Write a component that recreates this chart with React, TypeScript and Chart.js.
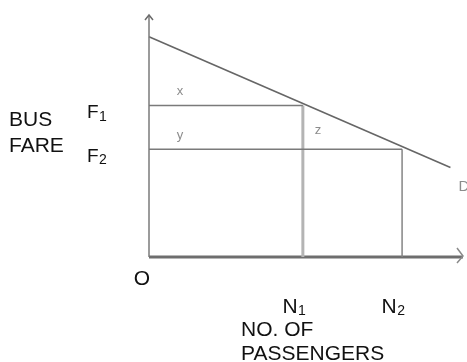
import React, { useEffect, useRef } from "react";
import { Chart, registerables } from "chart.js";

Chart.register(...registerables);

// ---- data ----
const axisMax = 10;
const quantityNames = ["N", "N"];
const quantitySubs = ["1", "2"];
const quantities = [4.9, 8.06];
const fareNames = ["F", "F"];
const fareSubs = ["1", "2"];
const fares = [6.26, 4.45];
const demandQ = [0, 9.6];
const demandP = [9.1, 3.7];
const areaLabels = ["x", "y", "z"];
const areaQ = [0.99, 0.99, 5.38];
const areaP = [6.86, 5.04, 5.25];
const originLabel = "O";
const demandLabel = "D";
const yTitle = ["BUS", "FARE"];
const xTitle = ["NO. OF", "PASSENGERS"];

const FONT = "'Liberation Sans', Arial, sans-serif";

const seg = (x1: number, y1: number, x2: number, y2: number) => [
  { x: x1, y: y1 },
  { x: x2, y: y2 },
];

const labelsPlugin = {
  id: "diagramLabels",
  afterDatasetsDraw(chart: any) {
    const ctx = chart.ctx as CanvasRenderingContext2D;
    const xs = chart.scales.x;
    const ys = chart.scales.y;
    const ox = xs.getPixelForValue(0);
    const oy = ys.getPixelForValue(0);
    const topY = ys.getPixelForValue(axisMax);
    const rightX = xs.getPixelForValue(axisMax);
    ctx.save();

    // arrowheads
    ctx.strokeStyle = "#6a6a6a";
    ctx.lineWidth = 1.5;
    ctx.beginPath();
    ctx.moveTo(ox - 4, topY + 5);
    ctx.lineTo(ox, topY);
    ctx.lineTo(ox + 4, topY + 5);
    ctx.stroke();
    ctx.strokeStyle = "#8a8a8a";
    ctx.beginPath();
    ctx.moveTo(rightX - 6, oy - 9);
    ctx.lineTo(rightX, oy - 1);
    ctx.lineTo(rightX - 6, oy + 6);
    ctx.stroke();

    ctx.fillStyle = "#111";
    ctx.textBaseline = "alphabetic";

    // origin
    ctx.font = `21px ${FONT}`;
    ctx.textAlign = "center";
    ctx.fillText(originLabel, ox - 7, oy + 28);

    // quantity labels
    quantities.forEach((q, i) => {
      const px = xs.getPixelForValue(q);
      ctx.font = `21px ${FONT}`;
      const w1 = ctx.measureText(quantityNames[i]).width;
      ctx.font = `14px ${FONT}`;
      const w2 = ctx.measureText(quantitySubs[i]).width;
      const start = px - 9 - (w1 + w2) / 2;
      ctx.textAlign = "left";
      ctx.font = `21px ${FONT}`;
      ctx.fillText(quantityNames[i], start, oy + 56);
      ctx.font = `14px ${FONT}`;
      ctx.fillText(quantitySubs[i], start + w1 + 0.5, oy + 58);
    });

    // fare labels
    fares.forEach((f, i) => {
      const py = ys.getPixelForValue(f);
      ctx.textAlign = "left";
      ctx.font = `19px ${FONT}`;
      const w1 = ctx.measureText(fareNames[i]).width;
      ctx.fillText(fareNames[i], ox - 62, py + 12.5);
      ctx.font = `14px ${FONT}`;
      ctx.fillText(fareSubs[i], ox - 62 + w1 + 0.5, py + 15);
    });

    // axis titles
    ctx.font = `21px ${FONT}`;
    ctx.textAlign = "left";
    const midF = (ys.getPixelForValue(fares[0]) + ys.getPixelForValue(fares[1])) / 2;
    ctx.fillText(yTitle[0], ox - 140, midF - 1);
    ctx.fillText(yTitle[1], ox - 140, midF + 25);
    ctx.fillText(xTitle[0], ox + 92, oy + 79);
    ctx.fillText(xTitle[1], ox + 92, oy + 103);

    // area labels
    ctx.fillStyle = "#8c8c8c";
    ctx.font = `13px ${FONT}`;
    ctx.textAlign = "center";
    areaLabels.forEach((t, i) => {
      ctx.fillText(t, xs.getPixelForValue(areaQ[i]), ys.getPixelForValue(areaP[i]) + 4);
    });

    // demand label
    ctx.fillStyle = "#8c8c8c";
    ctx.font = `15px ${FONT}`;
    ctx.textAlign = "left";
    const ex = xs.getPixelForValue(demandQ[demandQ.length - 1]);
    const ey = ys.getPixelForValue(demandP[demandP.length - 1]);
    ctx.fillText(demandLabel, ex + 8, ey + 24);

    ctx.restore();
  },
};

export default function App() {
  const ref = useRef<HTMLCanvasElement | null>(null);
  useEffect(() => {
    if (!ref.current) return;
    const lineDs = (data: any[], color: string, width: number) => ({
      data,
      borderColor: color,
      borderWidth: width,
      pointRadius: 0,
      showLine: true,
      fill: false,
      clip: false as any,
      borderCapStyle: "butt" as const,
    });
    const datasets = [
      lineDs(seg(0, 0, 0, axisMax), "#7a7a7a", 1.5),
      lineDs(seg(0, fares[0], quantities[0], fares[0]), "#7a7a7a", 1.5),
      lineDs(seg(0, fares[1], quantities[1], fares[1]), "#7a7a7a", 1.5),
      lineDs(seg(quantities[0], 0, quantities[0], fares[0]), "#b4b4b4", 3),
      lineDs(seg(quantities[1], 0, quantities[1], fares[1]), "#858585", 1.5),
      lineDs(
        demandQ.map((q, i) => ({ x: q, y: demandP[i] })),
        "#666666",
        1.6
      ),
      lineDs(seg(0, 0, axisMax, 0), "#6e6e6e", 3),
    ];
    const chart = new Chart(ref.current, {
      type: "scatter",
      data: { datasets },
      options: {
        animation: false,
        responsive: false,
        events: [],
        layout: { padding: { left: 149, right: 4, top: 15, bottom: 105 } },
        plugins: { legend: { display: false }, tooltip: { enabled: false } },
        scales: {
          x: { type: "linear", min: 0, max: axisMax, display: false },
          y: { type: "linear", min: 0, max: axisMax, display: false },
        },
      },
      plugins: [labelsPlugin],
    });
    return () => chart.destroy();
  }, []);
  return (
    <div style={{ position: "fixed", left: 0, top: 0, width: 467, height: 362, background: "#fff" }}>
      <canvas ref={ref} width={467} height={362} style={{ display: "block" }} />
    </div>
  );
}
